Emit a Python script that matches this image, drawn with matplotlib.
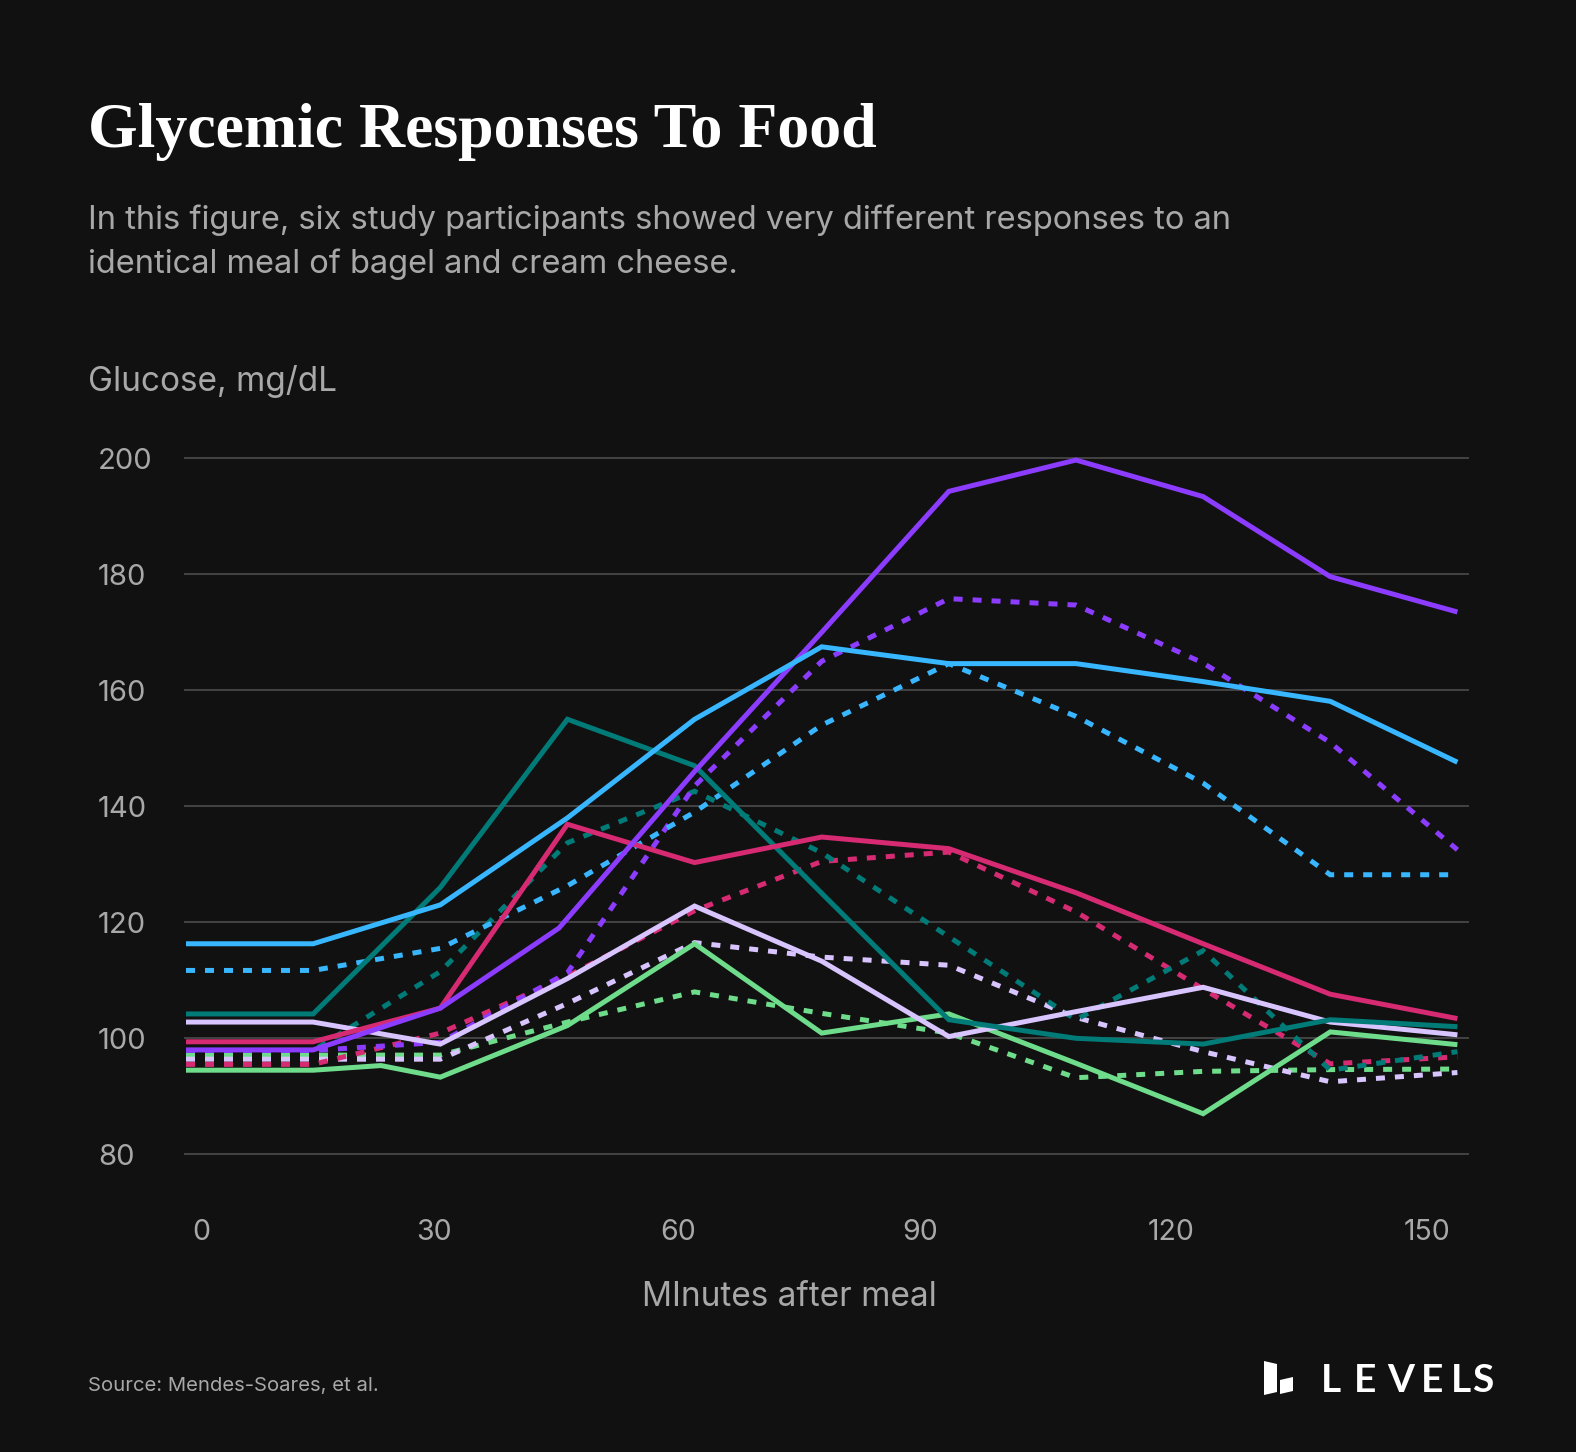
import matplotlib
matplotlib.use('Agg')
import matplotlib.pyplot as plt
from matplotlib.patches import Polygon

# ---------------- data (minutes after meal, glucose mg/dL) ----------------
minutes = [0, 15, 30, 45, 60, 75, 90, 105, 120, 135, 150]
minutes_purple = [0, 15, 30, 44, 60, 75, 90, 105, 120, 135, 150]
minutes_green = [0, 15, 23, 30, 45, 60, 75, 90, 105, 120, 135, 150]

blue_solid = [116.3, 116.3, 123.0, 138.0, 155.0, 167.5, 164.6, 164.6, 161.5, 158.1, 147.6]
blue_dashed = [111.7, 111.7, 115.5, 126.3, 139.0, 154.0, 164.6, 155.5, 144.0, 128.2, 128.2]
purple_solid = [98.0, 98.0, 105.2, 119.0, 146.0, 170.0, 194.3, 199.7, 193.4, 179.6, 173.5]
purple_dashed = [97.9, 97.9, 99.3, 111.3, 143.5, 165.0, 175.8, 174.7, 164.7, 151.0, 132.5]
teal_solid = [104.2, 104.2, 126.0, 155.0, 147.0, 125.0, 103.2, 100.0, 99.0, 103.2, 102.0]
teal_dashed = [97.9, 97.9, 111.5, 133.7, 142.6, 132.0, 117.5, 103.2, 115.1, 94.5, 97.7]
pink_solid = [99.4, 99.4, 105.2, 136.9, 130.3, 134.7, 132.7, 125.1, 116.3, 107.6, 103.4]
pink_dashed = [95.5, 95.5, 100.9, 110.7, 122.0, 130.5, 132.1, 121.8, 108.5, 95.6, 96.8]
lavender_solid = [102.8, 102.8, 99.0, 110.3, 122.8, 113.3, 100.3, 104.6, 108.8, 102.8, 100.6]
lavender_dashed = [96.4, 96.4, 96.4, 106.0, 116.5, 114.0, 112.6, 103.6, 97.7, 92.5, 94.1]
green_solid = [94.5, 94.5, 95.3, 93.3, 102.2, 116.3, 100.9, 104.2, 95.7, 87.0, 101.1, 98.9]
green_dashed = [97.1, 97.1, 97.1, 102.8, 108.0, 104.3, 100.9, 93.2, 94.3, 94.6, 94.7]

y_ticks = [80, 100, 120, 140, 160, 180, 200]
x_tick_labels = ['0', '30', '60', '90', '120', '150']

# ---------------- style ----------------
BG = '#111111'
PURPLE = '#8c3cff'
BLUE = '#38b6ff'
TEAL = '#007b78'
PINK = '#d62a72'
LAVENDER = '#d8c4ff'
GREEN = '#6edc8a'
GRAY_TXT = '#a8a8a8'

W, H = 1576, 1452
fig = plt.figure(figsize=(W / 100, H / 100), dpi=100, facecolor=BG)


def fx(px):
    return px / W


def fy(py):
    return 1 - py / H


ax_left, ax_right, ax_top, ax_bottom = 184, 1469, 440, 1170
ax = fig.add_axes([fx(ax_left), fy(ax_bottom), (ax_right - ax_left) / W, (ax_bottom - ax_top) / H])
ax.set_facecolor(BG)

# data-space limits matching the pixel layout
px_per_min = 8.476
x0_px = 186
ax.set_xlim((ax_left - x0_px) / px_per_min, (ax_right - x0_px) / px_per_min)
px_per_unit = 5.8
y100_px = 1038.3
ax.set_ylim(100 + (y100_px - ax_bottom) / px_per_unit, 100 + (y100_px - ax_top) / px_per_unit)

LW = 3.6
DASH = (0, (1.8, 2.0))

series = [
    (minutes, green_dashed, GREEN, DASH),
    (minutes, lavender_dashed, LAVENDER, DASH),
    (minutes, pink_dashed, PINK, DASH),
    (minutes, teal_dashed, TEAL, DASH),
    (minutes, purple_dashed, PURPLE, DASH),
    (minutes, blue_dashed, BLUE, DASH),
    (minutes_green, green_solid, GREEN, '-'),
    (minutes, lavender_solid, LAVENDER, '-'),
    (minutes, teal_solid, TEAL, '-'),
    (minutes, pink_solid, PINK, '-'),
    (minutes_purple, purple_solid, PURPLE, '-'),
    (minutes, blue_solid, BLUE, '-'),
]
for xs, ys, c, ls in series:
    ax.plot(xs, ys, color=c, lw=LW, linestyle=ls, solid_joinstyle='miter',
            dash_joinstyle='miter', dash_capstyle='butt', solid_capstyle='butt', zorder=3)

for s in ax.spines.values():
    s.set_visible(False)

ax.set_yticks(y_ticks)
ax.set_yticklabels([str(v) for v in y_ticks])
ax.yaxis.grid(True, color='#474747', lw=1.3, zorder=1)
ax.xaxis.grid(False)
ax.tick_params(axis='y', length=0, pad=62, labelsize=21, labelcolor=GRAY_TXT)
for t in ax.get_yticklabels():
    t.set_horizontalalignment('left')
    t.set_family('Inter')

# x tick label centres (as placed in the original artwork)
x_label_px = [201, 434, 678.5, 919.7, 1171, 1427]
ax.set_xticks([(p - x0_px) / px_per_min for p in x_label_px])
ax.set_xticklabels(x_tick_labels)
ax.tick_params(axis='x', length=0, pad=35, labelsize=20.5, labelcolor=GRAY_TXT)
for t in ax.get_xticklabels():
    t.set_family('Inter')

# ---------------- texts ----------------
fig.text(fx(88.5), fy(147), 'Glycemic Responses To Food', family='Liberation Serif',
         weight='bold', size=46, color='white', va='baseline', ha='left')
fig.text(fx(88.5), fy(229), 'In this figure, six study participants showed very different responses to an',
         family='Inter', size=23.5, color=GRAY_TXT, va='baseline', ha='left')
fig.text(fx(88.5), fy(273), 'identical meal of bagel and cream cheese.',
         family='Inter', size=23.5, color=GRAY_TXT, va='baseline', ha='left')
fig.text(fx(88.5), fy(391), 'Glucose, mg/dL', family='Inter', size=24, color=GRAY_TXT,
         va='baseline', ha='left')
fig.text(fx(789), fy(1306), 'MInutes after meal', family='Inter', size=24, color=GRAY_TXT,
         va='baseline', ha='center')
fig.text(fx(88.5), fy(1391), 'Source: Mendes-Soares, et al.', family='Inter', size=14.6,
         color=GRAY_TXT, va='baseline', ha='left')

# LEVELS logo
logo_letters = ['L', 'E', 'V', 'E', 'L', 'S']
logo_x = [1321, 1354, 1387, 1421, 1451, 1472]
for ch, px in zip(logo_letters, logo_x):
    fig.text(fx(px), fy(1392), ch, family='Lato', weight='bold', size=28, color='white',
             va='baseline', ha='left')
bar1 = [(1264, 1361), (1277, 1364), (1277, 1392), (1264, 1395)]
bar2 = [(1280, 1380), (1293, 1377), (1293, 1391), (1280, 1394)]
for bar in (bar1, bar2):
    fig.patches.append(Polygon([(fx(a), fy(b)) for a, b in bar], closed=True,
                               transform=fig.transFigure, facecolor='white', edgecolor='none'))

fig.savefig('out.png', dpi=100, facecolor=BG)
